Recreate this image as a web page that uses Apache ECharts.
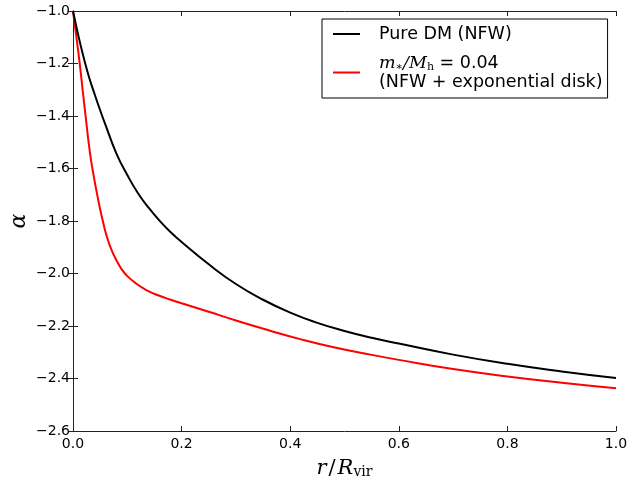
<!DOCTYPE html>
<html>
<head>
<meta charset="utf-8">
<script src="https://cdn.jsdelivr.net/npm/echarts@6/dist/echarts.min.js"></script>
<style>html,body{margin:0;padding:0;background:#fff}#c{width:640px;height:483px}</style>
</head>
<body>
<div id="c"></div>
<script>
var xTicks = [0.0, 0.2, 0.4, 0.6, 0.8, 1.0];
var yTicks = [-2.6, -2.4, -2.2, -2.0, -1.8, -1.6, -1.4, -1.2, -1.0];

var dmX = [0, 0.01, 0.02, 0.03, 0.04, 0.05, 0.06, 0.08, 0.10, 0.12, 0.14, 0.16, 0.18, 0.20, 0.25, 0.30, 0.35, 0.40, 0.45, 0.50, 0.55, 0.60, 0.70, 0.80, 0.90, 1.00];
var dmY = [-1.0, -1.095, -1.18, -1.255, -1.318, -1.378, -1.435, -1.543, -1.625, -1.695, -1.751, -1.800, -1.843, -1.880, -1.965, -2.040, -2.100, -2.149, -2.188, -2.219, -2.245, -2.267, -2.309, -2.344, -2.373, -2.398];

var diskX = [0, 0.006, 0.012, 0.018, 0.023, 0.031, 0.037, 0.043, 0.05, 0.055, 0.061, 0.07, 0.08, 0.09, 0.10, 0.116, 0.135, 0.158, 0.18, 0.20, 0.25, 0.30, 0.36, 0.42, 0.48, 0.55, 0.60, 0.70, 0.80, 0.90, 1.00];
var diskY = [-1.0, -1.095, -1.194, -1.305, -1.397, -1.537, -1.615, -1.683, -1.755, -1.80, -1.850, -1.905, -1.950, -1.985, -2.010, -2.038, -2.063, -2.084, -2.100, -2.1135, -2.146, -2.179, -2.216, -2.251, -2.281, -2.310, -2.329, -2.364, -2.392, -2.416, -2.437];

var nameDM = 'Pure DM (NFW)';
var nameDisk = 'm*/Mh = 0.04 (NFW + exponential disk)';

function pairs(xs, ys) { return xs.map(function (x, i) { return [x, ys[i]]; }); }
function fmtNum(v) { return v.toFixed(1).replace('-', '\u2212'); }

var chart = echarts.init(document.getElementById('c'), null, {renderer: 'canvas'});
var axisLine = {show: true, lineStyle: {color: '#222', width: 1}};
var tickIn = {show: true, inside: true, length: 5, lineStyle: {color: '#222', width: 1}};
var option = {
  backgroundColor: '#fff',
  animation: false,
  grid: {left: 73, right: 24, top: 11, bottom: 52, containLabel: false, outerBoundsMode: 'none'},
  xAxis: [{
    type: 'value', min: 0, max: 1, interval: 0.2, position: 'bottom',
    axisLine: axisLine, axisTick: tickIn, splitLine: {show: false},
    axisLabel: {formatter: fmtNum, color: '#000', fontSize: 14, fontFamily: 'DejaVu Sans', margin: 6},
    name: '{i|r}{n|/}{i|R}{s|vir}', nameLocation: 'middle', nameGap: 22,
    nameTextStyle: {rich: {
      i: {fontFamily: 'DejaVu Serif', fontStyle: 'italic', fontSize: 21, color: '#000', lineHeight: 26, verticalAlign: 'bottom'},
      n: {fontFamily: 'DejaVu Serif', fontSize: 21, color: '#000', lineHeight: 26, verticalAlign: 'bottom', padding: [0, 2, 0, 2]},
      s: {fontFamily: 'DejaVu Serif', fontSize: 14, color: '#000', lineHeight: 24, verticalAlign: 'bottom'}
    }}
  }, {
    type: 'value', min: 0, max: 1, interval: 0.2, position: 'top',
    axisLine: axisLine, axisTick: tickIn, splitLine: {show: false}, axisLabel: {show: false}
  }],
  yAxis: [{
    type: 'value', min: -2.6, max: -1.0, interval: 0.2, position: 'left',
    axisLine: axisLine, axisTick: tickIn, splitLine: {show: false},
    axisLabel: {formatter: fmtNum, color: '#000', fontSize: 14, fontFamily: 'DejaVu Sans', margin: 3},
    name: '\u03B1', nameLocation: 'middle', nameGap: 43, nameMoveOverlap: false,
    nameTextStyle: {fontFamily: 'DejaVu Serif', fontStyle: 'italic', fontSize: 22, color: '#000'}
  }, {
    type: 'value', min: -2.6, max: -1.0, interval: 0.2, position: 'right',
    axisLine: axisLine, axisTick: tickIn, splitLine: {show: false}, axisLabel: {show: false}
  }],
  legend: {
    left: 322, top: 19, orient: 'vertical',
    backgroundColor: '#fff', borderColor: '#000', borderWidth: 1, borderRadius: 0,
    padding: [6, 5, 7, 11], itemGap: 11, itemWidth: 27, itemHeight: 2, icon: 'rect',
    data: [nameDM, nameDisk],
    formatter: function (name) {
      if (name === nameDM) return '{t|Pure DM (NFW)}';
      return '{mi|m}{sub|\u2217}{mi|/M}{sub|h}{t| = 0.04}\n{t|(NFW + exponential disk)}';
    },
    textStyle: {
      color: '#000', fontSize: 17.5, fontFamily: 'DejaVu Sans', padding: [0, 0, 0, 14],
      rich: {
        t: {fontSize: 17.5, fontFamily: 'DejaVu Sans', color: '#000', lineHeight: 19},
        mi: {fontSize: 17.5, fontFamily: 'DejaVu Serif', fontStyle: 'italic', color: '#000', lineHeight: 19},
        sub: {fontSize: 11, fontFamily: 'DejaVu Serif', color: '#000', lineHeight: 19, verticalAlign: 'bottom'}
      }
    }
  },
  series: [{
    name: nameDM, type: 'line', data: pairs(dmX, dmY), symbol: 'none',
    smooth: 0.5, lineStyle: {color: '#000', width: 2}, itemStyle: {color: '#000'}, z: 3
  }, {
    name: nameDisk, type: 'line', data: pairs(diskX, diskY), symbol: 'none',
    smooth: 0.5, lineStyle: {color: '#ff0000', width: 2}, itemStyle: {color: '#ff0000'}, z: 2
  }]
};
chart.setOption(option);
</script>
</body>
</html>
